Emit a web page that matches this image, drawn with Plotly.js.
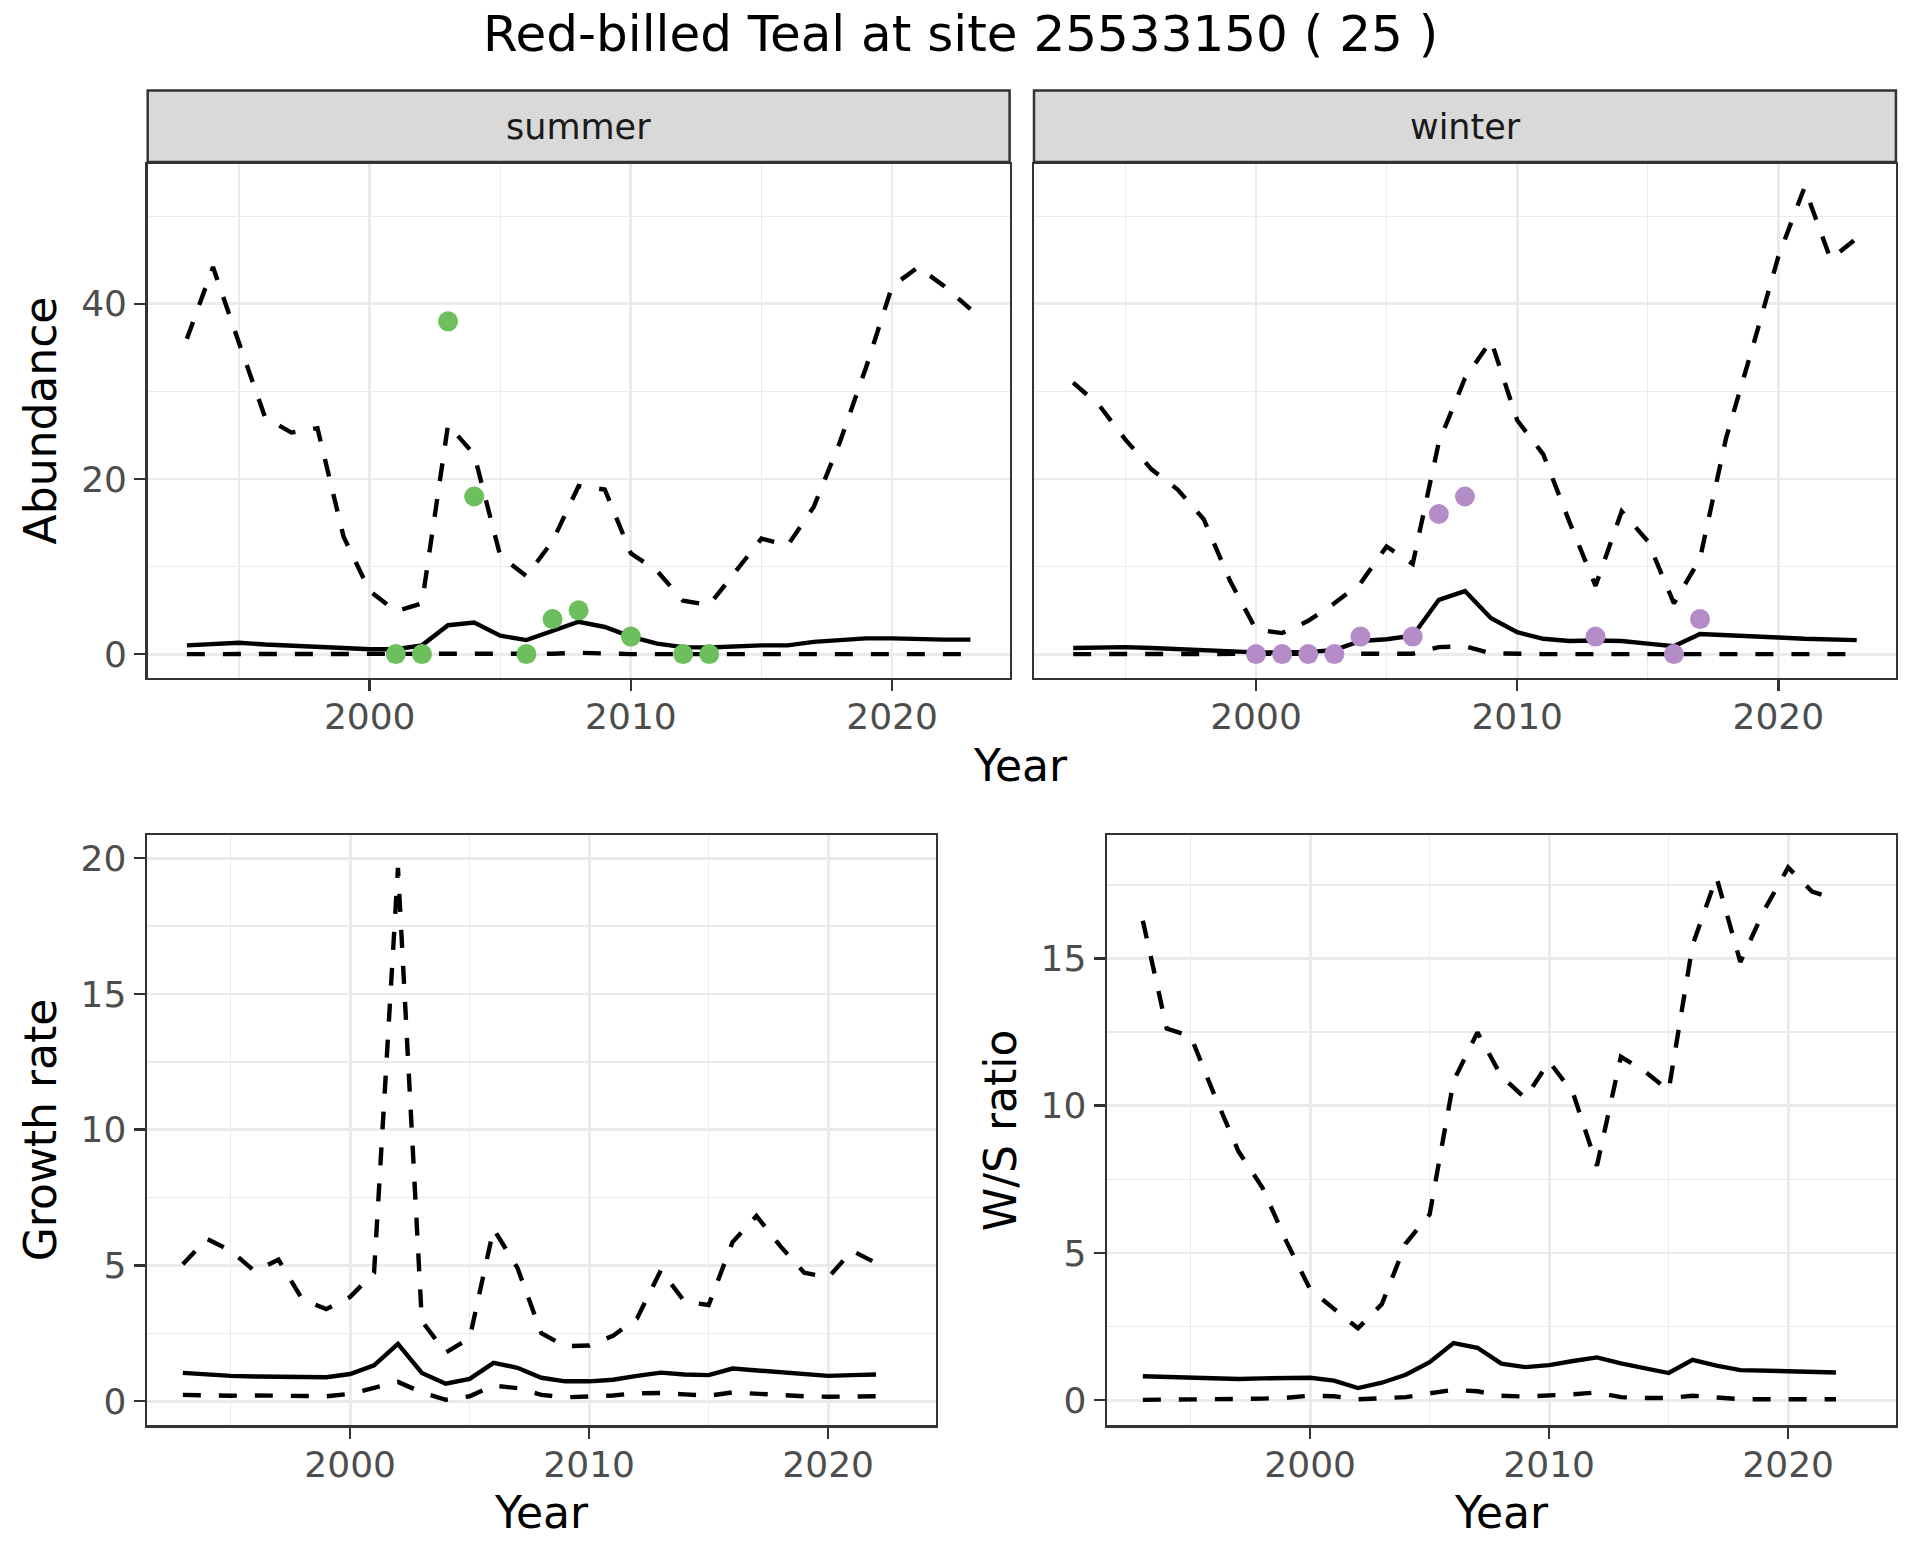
<!DOCTYPE html>
<html><head><meta charset="utf-8">
<script src="https://cdn.plot.ly/plotly-3.0.1.min.js"></script>
<style>html,body{margin:0;padding:0;background:#fff}</style>
</head><body><div id="chart" style="width:1920px;height:1560px"></div>
<script>
// ---------- data ----------
const years = [1993,1994,1995,1996,1997,1998,1999,2000,2001,2002,2003,2004,2005,2006,2007,2008,2009,2010,2011,2012,2013,2014,2015,2016,2017,2018,2019,2020,2021,2022,2023];
const summerUpper = [36.0,44.2,35.5,27.0,25.3,25.8,13.4,7.2,4.9,5.8,26.2,22.8,11.2,8.9,12.9,19.2,18.8,11.5,9.5,6.1,5.6,9.5,13.2,12.4,16.8,24.2,32.7,42.0,44.2,42.0,39.4];
const summerMean  = [1.0,1.2,1.3,1.1,1.0,0.85,0.7,0.55,0.55,1.0,3.3,3.6,2.1,1.6,2.7,3.7,3.1,2.0,1.2,0.8,0.75,0.9,1.0,1.0,1.4,1.6,1.8,1.8,1.7,1.65,1.65];
const summerLower = [0,0,0,0,0,0,0,0,0,0,0,0,0,0,0.05,0.15,0.02,0,0,0,0,0,0,0,0,0,0,0,0,0,0];
const summerObsYears = [2001,2002,2003,2004,2006,2007,2008,2010,2012,2013];
const summerObs      = [0,0,38,18,0,4,5,2,0,0];

const winterUpper = [31.0,28.4,24.5,21.1,18.8,15.4,8.4,2.8,2.4,3.8,5.8,8.1,12.3,10.3,24.2,31.5,35.8,26.7,22.8,15.1,7.8,16.3,12.9,5.8,10.9,24.7,34.9,45.4,53.3,45.1,47.5];
const winterMean  = [0.7,0.8,0.8,0.7,0.55,0.45,0.35,0.2,0.2,0.25,0.45,1.5,1.7,2.1,6.2,7.2,4.1,2.5,1.75,1.5,1.55,1.5,1.2,0.9,2.3,2.2,2.0,1.9,1.75,1.65,1.6];
const winterLower = [0,0,0,0,0,0,0,0,0,0,0,0,0,0.05,0.8,0.9,0.1,0,0,0,0,0,0,0,0,0,0,0,0,0,0];
const winterObsYears = [2000,2001,2002,2003,2004,2006,2007,2008,2013,2016,2017];
const winterObs      = [0,0,0,0,2,2,16,18,2,0,4];

const rateYears = [1993,1994,1995,1996,1997,1998,1999,2000,2001,2002,2003,2004,2005,2006,2007,2008,2009,2010,2011,2012,2013,2014,2015,2016,2017,2018,2019,2020,2021,2022];
const growthUpper = [5.04,5.98,5.54,4.79,5.21,3.75,3.39,3.84,4.73,19.64,2.95,1.79,2.32,6.34,4.91,2.5,2.02,2.05,2.41,3.04,4.82,3.66,3.54,5.86,6.82,5.71,4.73,4.55,5.54,5.09];
const growthMean  = [1.04,0.98,0.93,0.91,0.91,0.88,0.88,1.0,1.32,2.11,1.04,0.64,0.82,1.41,1.23,0.86,0.73,0.73,0.79,0.93,1.05,0.98,0.96,1.2,1.13,1.04,0.96,0.93,0.96,0.98];
const growthLower = [0.23,0.2,0.2,0.21,0.21,0.18,0.18,0.27,0.5,0.71,0.32,0.05,0.18,0.57,0.48,0.23,0.14,0.16,0.21,0.29,0.3,0.25,0.2,0.32,0.27,0.21,0.18,0.16,0.18,0.18];

const ratioUpper = [16.28,12.62,12.36,10.35,8.45,7.22,5.4,3.76,3.1,2.44,3.26,5.32,6.31,10.84,12.49,11.0,10.26,11.5,10.43,7.96,11.66,11.17,10.51,15.45,17.76,14.88,16.64,18.09,17.27,17.02];
const ratioMean  = [0.81,0.79,0.76,0.74,0.72,0.74,0.76,0.76,0.66,0.41,0.59,0.86,1.29,1.94,1.78,1.24,1.12,1.19,1.33,1.45,1.25,1.09,0.92,1.37,1.17,1.02,1.0,0.99,0.96,0.94];
const ratioLower = [0.01,0.01,0.02,0.03,0.04,0.05,0.08,0.15,0.13,0.03,0.07,0.1,0.23,0.35,0.3,0.15,0.12,0.15,0.2,0.26,0.1,0.07,0.07,0.15,0.08,0.03,0.03,0.03,0.03,0.03];

const titleText = "Red-billed Teal at site 25533150 ( 25 )";
const facetLabels = ["summer", "winter"];
const xTicks = [2000, 2010, 2020];
const xMinor = [1995, 2005, 2015];

// ---------- styling ----------
const W = 1920, H = 1560;
const FONT = "DejaVu Sans";
const px = v => v / W;
const py = v => 1 - v / H;
const LW = 4.4;
const DASH = "18px,18px";

function line(x, y, xa, ya, dashed) {
  return {x: x, y: y, xaxis: xa, yaxis: ya, type: "scatter", mode: "lines",
    line: {color: "#000000", width: LW, dash: dashed ? DASH : "solid"},
    hoverinfo: "skip", showlegend: false};
}
function pts(x, y, xa, ya, color) {
  return {x: x, y: y, xaxis: xa, yaxis: ya, type: "scatter", mode: "markers",
    marker: {color: color, size: 20, line: {width: 0}}, showlegend: false};
}

const traces = [
  line(years, summerUpper, "x", "y", true),
  line(years, summerMean, "x", "y", false),
  line(years, summerLower, "x", "y", true),
  pts(summerObsYears, summerObs, "x", "y", "#6dbe5d"),
  line(years, winterUpper, "x2", "y2", true),
  line(years, winterMean, "x2", "y2", false),
  line(years, winterLower, "x2", "y2", true),
  pts(winterObsYears, winterObs, "x2", "y2", "#b48dc8"),
  line(rateYears, growthUpper, "x3", "y3", true),
  line(rateYears, growthMean, "x3", "y3", false),
  line(rateYears, growthLower, "x3", "y3", true),
  line(rateYears, ratioUpper, "x4", "y4", true),
  line(rateYears, ratioMean, "x4", "y4", false),
  line(rateYears, ratioLower, "x4", "y4", true)
];

const common = {
  showline: true, mirror: true, linecolor: "#333333", linewidth: 2.5,
  ticks: "outside", ticklen: 11, tickwidth: 2.5, tickcolor: "#333333",
  showgrid: true, gridcolor: "#EBEBEB", gridwidth: 2.8, zeroline: false,
  tickfont: {family: FONT, size: 36, color: "#4D4D4D"}, fixedrange: true
};
function xax(d0, d1, anchor) {
  return Object.assign({}, common, {domain: [px(d0), px(d1)], anchor: anchor,
    range: [1991.5, 2024.5], tickmode: "array", tickvals: xTicks, ticklabelstandoff: -5,
    minor: {tickmode: "array", tickvals: xMinor, showgrid: true, gridcolor: "#EBEBEB", gridwidth: 1.4, ticks: ""}});
}
function yax(t0, t1, anchor, range, major, minor, labels) {
  const o = Object.assign({}, common, {domain: [py(t1), py(t0)], anchor: anchor,
    range: range, tickmode: "array", tickvals: major,
    minor: {tickmode: "array", tickvals: minor, showgrid: true, gridcolor: "#EBEBEB", gridwidth: 1.4, ticks: ""}});
  if (!labels) { o.showticklabels = false; o.ticks = ""; }
  return o;
}

const topY0 = 164, topY1 = 677.5, botY0 = 835.4, botY1 = 1425.3;

const layout = {
  width: W, height: H, margin: {l: 0, r: 0, t: 0, b: 0},
  paper_bgcolor: "#ffffff", plot_bgcolor: "#ffffff", showlegend: false,
  font: {family: FONT, color: "#000000"},
  xaxis:  xax(147.7, 1009.6, "y"),
  yaxis:  yax(topY0, topY1, "x", [-2.67, 55.97], [0, 20, 40], [10, 30, 50], true),
  xaxis2: xax(1034, 1895.9, "y2"),
  yaxis2: yax(topY0, topY1, "x2", [-2.67, 55.97], [0, 20, 40], [10, 30, 50], false),
  xaxis3: xax(147, 935.7, "y3"),
  yaxis3: yax(botY0, botY1, "x3", [-0.89, 20.84], [0, 5, 10, 15, 20], [2.5, 7.5, 12.5, 17.5], true),
  xaxis4: xax(1107, 1895.7, "y4"),
  yaxis4: yax(botY0, botY1, "x4", [-0.855, 19.18], [0, 5, 10, 15], [2.5, 7.5, 12.5, 17.5], true),
  shapes: [
    {type: "rect", xref: "paper", yref: "paper", x0: px(147.7), x1: px(1009.6), y0: py(162), y1: py(90.5),
     fillcolor: "#D9D9D9", line: {color: "#333333", width: 2.5}, layer: "below"},
    {type: "rect", xref: "paper", yref: "paper", x0: px(1034), x1: px(1895.9), y0: py(162), y1: py(90.5),
     fillcolor: "#D9D9D9", line: {color: "#333333", width: 2.5}, layer: "below"}
  ],
  annotations: [
    {text: titleText, x: px(960), y: py(34), xref: "paper", yref: "paper", showarrow: false,
     xanchor: "center", yanchor: "middle", font: {family: FONT, size: 50, color: "#000000"}},
    {text: facetLabels[0], x: px(578.7), y: py(126.5), xref: "paper", yref: "paper", showarrow: false,
     xanchor: "center", yanchor: "middle", font: {family: FONT, size: 35, color: "#1A1A1A"}},
    {text: facetLabels[1], x: px(1465), y: py(126.5), xref: "paper", yref: "paper", showarrow: false,
     xanchor: "center", yanchor: "middle", font: {family: FONT, size: 35, color: "#1A1A1A"}},
    {text: "Abundance", x: px(40.6), y: py(420.8), xref: "paper", yref: "paper", showarrow: false, textangle: -90,
     xanchor: "center", yanchor: "middle", font: {family: FONT, size: 44, color: "#000000"}},
    {text: "Year", x: px(1020.8), y: py(765.5), xref: "paper", yref: "paper", showarrow: false,
     xanchor: "center", yanchor: "middle", font: {family: FONT, size: 44, color: "#000000"}},
    {text: "Growth rate", x: px(40), y: py(1130.3), xref: "paper", yref: "paper", showarrow: false, textangle: -90,
     xanchor: "center", yanchor: "middle", font: {family: FONT, size: 44, color: "#000000"}},
    {text: "Year", x: px(541.4), y: py(1512.5), xref: "paper", yref: "paper", showarrow: false,
     xanchor: "center", yanchor: "middle", font: {family: FONT, size: 44, color: "#000000"}},
    {text: "W/S ratio", x: px(1000), y: py(1130.3), xref: "paper", yref: "paper", showarrow: false, textangle: -90,
     xanchor: "center", yanchor: "middle", font: {family: FONT, size: 44, color: "#000000"}},
    {text: "Year", x: px(1501.4), y: py(1512.5), xref: "paper", yref: "paper", showarrow: false,
     xanchor: "center", yanchor: "middle", font: {family: FONT, size: 44, color: "#000000"}}
  ]
};

Plotly.newPlot("chart", traces, layout, {staticPlot: true, displayModeBar: false});
</script>
</body></html>
